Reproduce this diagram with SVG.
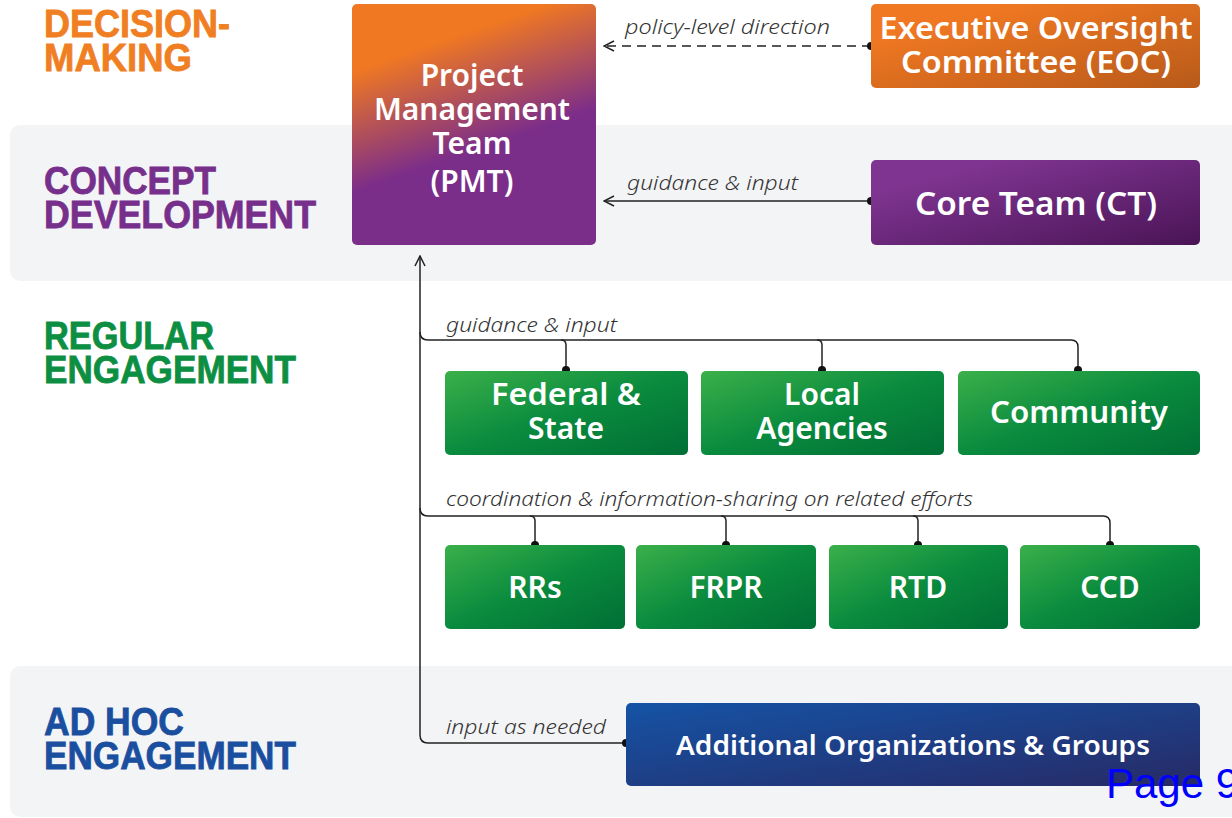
<svg xmlns="http://www.w3.org/2000/svg" width="1232" height="818" viewBox="0 0 1232 818">
<defs>
<linearGradient id="gPMT" x1="0" y1="0" x2="0.35" y2="1">
<stop offset="0.25" stop-color="#f07822"/>
<stop offset="0.7" stop-color="#7b2d8a"/>
</linearGradient>
<linearGradient id="gEOC" x1="0" y1="0" x2="1" y2="1">
<stop offset="0.2" stop-color="#f07822"/>
<stop offset="1" stop-color="#b85a1a"/>
</linearGradient>
<linearGradient id="gCT" x1="0" y1="0" x2="1" y2="1">
<stop offset="0.2" stop-color="#7e3490"/>
<stop offset="1" stop-color="#4a1456"/>
</linearGradient>
<linearGradient id="gGreen" x1="0" y1="0" x2="1" y2="1">
<stop offset="0" stop-color="#3bb04a"/>
<stop offset="0.5" stop-color="#0a8b3e"/>
<stop offset="1" stop-color="#006f34"/>
</linearGradient>
<linearGradient id="gBlue" x1="0" y1="0" x2="1" y2="1">
<stop offset="0" stop-color="#1553a5"/>
<stop offset="1" stop-color="#272a66"/>
</linearGradient>
<marker id="arr" viewBox="0 0 12 12" refX="11" refY="6" markerWidth="12" markerHeight="12" markerUnits="userSpaceOnUse" orient="auto-start-reverse">
<path d="M1,1 L11,6 L1,11" fill="none" stroke="#222" stroke-width="1.5"/>
</marker>
<style>
.band{fill:#f3f4f6}
.sec{font-family:"Liberation Sans",Arial,sans-serif;font-weight:bold;font-size:38px;stroke-width:0.8px}
.nt{font-family:"Noto Sans","Open Sans",sans-serif;font-weight:600;fill:#fff;text-anchor:middle}
.lbl{font-family:"Noto Sans","Open Sans",sans-serif;font-style:italic;font-weight:300;font-size:20px;fill:#333}
.ln{fill:none;stroke:#222;stroke-width:1.5}
.dot{fill:#111}
</style>
</defs>
<rect class="band" x="10" y="125" width="1240" height="156" rx="10"/>
<rect class="band" x="10" y="666" width="1240" height="151" rx="10"/>

<g id="section-labels">
<text class="sec" fill="#f07f23" stroke="#f07f23"><tspan x="44" y="37" textLength="186" lengthAdjust="spacingAndGlyphs">DECISION-</tspan><tspan x="44" y="71" textLength="148" lengthAdjust="spacingAndGlyphs">MAKING</tspan></text>
<text class="sec" fill="#772f8c" stroke="#772f8c"><tspan x="44" y="194" textLength="172" lengthAdjust="spacingAndGlyphs">CONCEPT</tspan><tspan x="44" y="228" textLength="272" lengthAdjust="spacingAndGlyphs">DEVELOPMENT</tspan></text>
<text class="sec" fill="#0d8f43" stroke="#0d8f43"><tspan x="44" y="349" textLength="170" lengthAdjust="spacingAndGlyphs">REGULAR</tspan><tspan x="44" y="383" textLength="252" lengthAdjust="spacingAndGlyphs">ENGAGEMENT</tspan></text>
<text class="sec" fill="#1a4fa0" stroke="#1a4fa0"><tspan x="44" y="735" textLength="140" lengthAdjust="spacingAndGlyphs">AD HOC</tspan><tspan x="44" y="769" textLength="252" lengthAdjust="spacingAndGlyphs">ENGAGEMENT</tspan></text>
</g>

<g id="connectors">
<path class="ln" d="M871,46 H604" stroke-dasharray="9,6" marker-end="url(#arr)"/>
<path class="ln" d="M871,201 H604" marker-end="url(#arr)"/>
<path class="ln" d="M626,743 H428 Q420,743 420,735 V256" marker-end="url(#arr)"/>
<path class="ln" d="M420,332 Q420,340 428,340 H1071 Q1078,340 1078,347 V370"/>
<path class="ln" d="M561,340 Q566,340 566,345 V370"/>
<path class="ln" d="M817,340 Q822,340 822,345 V370"/>
<path class="ln" d="M420,508 Q420,516 428,516 H1103 Q1110,516 1110,523 V545"/>
<path class="ln" d="M530,516 Q535,516 535,521 V545"/>
<path class="ln" d="M721,516 Q726,516 726,521 V545"/>
<path class="ln" d="M913,516 Q918,516 918,521 V545"/>
<circle class="dot" cx="871" cy="46" r="4"/>
<circle class="dot" cx="871" cy="201" r="4"/>
<circle class="dot" cx="626" cy="743" r="4"/>
<circle class="dot" cx="566" cy="370" r="4"/>
<circle class="dot" cx="822" cy="370" r="4"/>
<circle class="dot" cx="1078" cy="370" r="4"/>
<circle class="dot" cx="535" cy="545" r="4"/>
<circle class="dot" cx="726" cy="545" r="4"/>
<circle class="dot" cx="918" cy="545" r="4"/>
<circle class="dot" cx="1110" cy="545" r="4"/>
<text class="lbl" x="625" y="34" textLength="205" lengthAdjust="spacingAndGlyphs">policy-level direction</text>
<text class="lbl" x="627" y="190" textLength="171" lengthAdjust="spacingAndGlyphs">guidance &amp; input</text>
<text class="lbl" x="446" y="332" textLength="171" lengthAdjust="spacingAndGlyphs">guidance &amp; input</text>
<text class="lbl" x="446" y="506" textLength="527" lengthAdjust="spacingAndGlyphs">coordination &amp; information-sharing on related efforts</text>
<text class="lbl" x="446" y="734" textLength="160" lengthAdjust="spacingAndGlyphs">input as needed</text>
</g>

<g id="pmt">
<rect x="352" y="4" width="244" height="241" rx="5" fill="url(#gPMT)"/>
<text class="nt" font-size="30"><tspan x="472" y="86">Project</tspan><tspan x="472" y="120">Management</tspan><tspan x="472" y="154">Team</tspan><tspan x="472" y="192">(PMT)</tspan></text>
</g>
<g id="eoc">
<rect x="871" y="4" width="329" height="84" rx="5" fill="url(#gEOC)"/>
<text class="nt" font-size="31"><tspan x="1036" y="39" textLength="313" lengthAdjust="spacingAndGlyphs">Executive Oversight</tspan><tspan x="1036" y="73" textLength="270" lengthAdjust="spacingAndGlyphs">Committee (EOC)</tspan></text>
</g>
<g id="ct">
<rect x="871" y="160" width="329" height="85" rx="5" fill="url(#gCT)"/>
<text class="nt" font-size="32" x="1036" y="215" textLength="242" lengthAdjust="spacingAndGlyphs">Core Team (CT)</text>
</g>

<g id="federal-state">
<rect x="445" y="371" width="243" height="84" rx="5" fill="url(#gGreen)"/>
<text class="nt" font-size="30"><tspan x="566" y="405" textLength="150" lengthAdjust="spacingAndGlyphs">Federal &amp;</tspan><tspan x="566" y="439">State</tspan></text>
</g>
<g id="local-agencies">
<rect x="701" y="371" width="243" height="84" rx="5" fill="url(#gGreen)"/>
<text class="nt" font-size="30"><tspan x="822" y="405">Local</tspan><tspan x="822" y="439">Agencies</tspan></text>
</g>
<g id="community">
<rect x="958" y="371" width="242" height="84" rx="5" fill="url(#gGreen)"/>
<text class="nt" font-size="30" x="1079" y="423" textLength="178" lengthAdjust="spacingAndGlyphs">Community</text>
</g>

<g id="rrs">
<rect x="445" y="545" width="180" height="84" rx="5" fill="url(#gGreen)"/>
<text class="nt" font-size="30" x="535" y="598">RRs</text>
</g>
<g id="frpr">
<rect x="636" y="545" width="180" height="84" rx="5" fill="url(#gGreen)"/>
<text class="nt" font-size="30" x="726" y="598">FRPR</text>
</g>
<g id="rtd">
<rect x="829" y="545" width="179" height="84" rx="5" fill="url(#gGreen)"/>
<text class="nt" font-size="30" x="918" y="598">RTD</text>
</g>
<g id="ccd">
<rect x="1020" y="545" width="180" height="84" rx="5" fill="url(#gGreen)"/>
<text class="nt" font-size="30" x="1110" y="598">CCD</text>
</g>

<g id="additional">
<rect x="626" y="703" width="574" height="83" rx="5" fill="url(#gBlue)"/>
<text class="nt" font-size="27" x="913" y="755" textLength="474" lengthAdjust="spacingAndGlyphs">Additional Organizations &amp; Groups</text>
</g>

<text x="1106" y="798" font-family="Liberation Sans,Arial,sans-serif" font-size="42" fill="#0000ff">Page 9</text>
</svg>
